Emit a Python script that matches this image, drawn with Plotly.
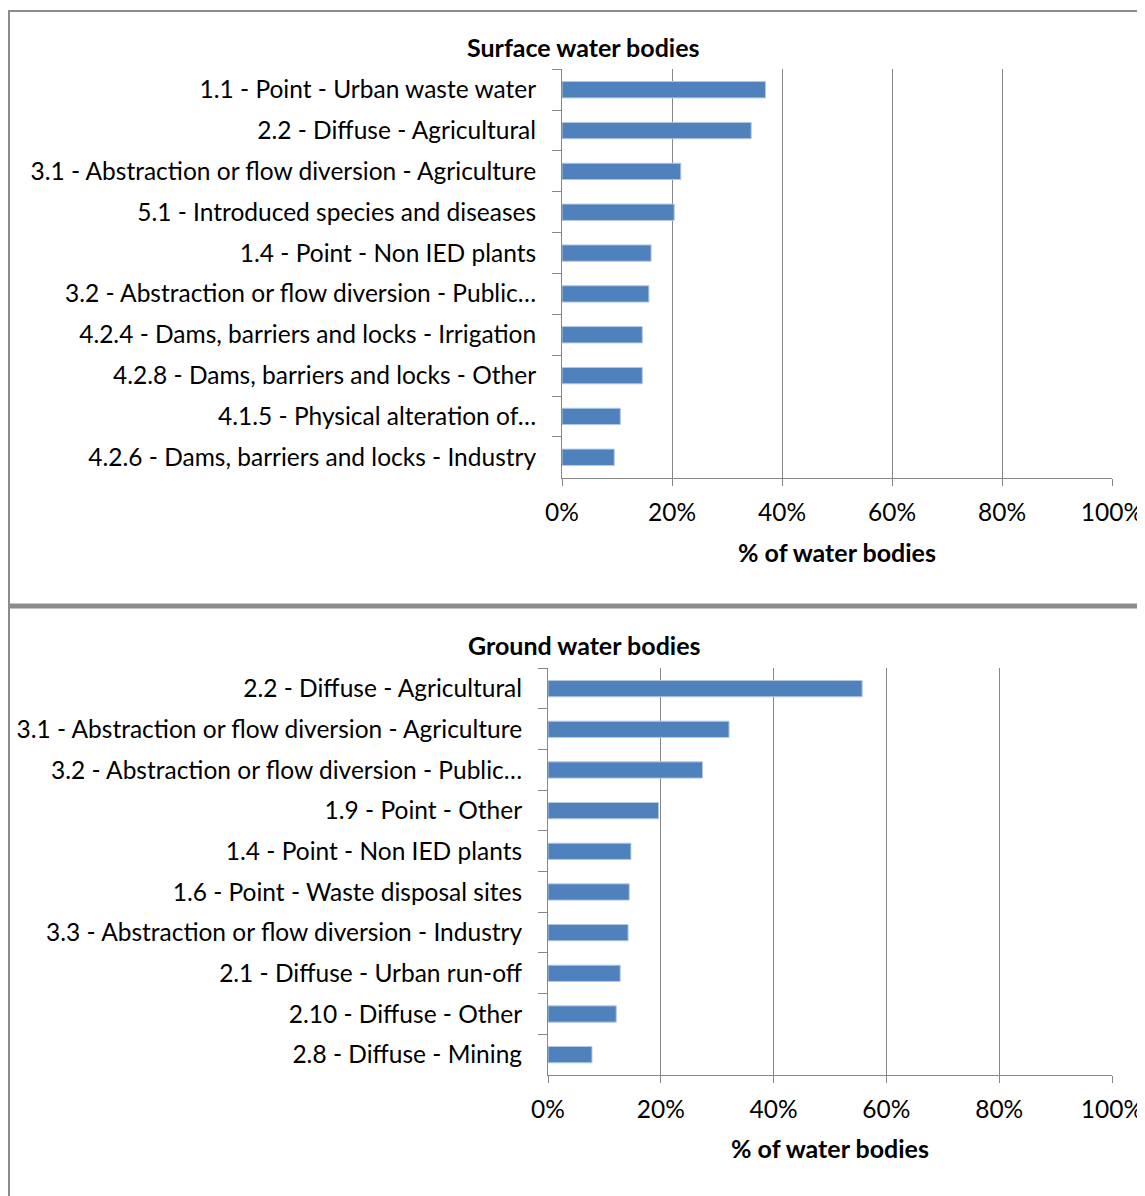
import plotly.graph_objects as go

W, H = 1137, 1188
OFF = 8  # page body margin compensation

surface_labels = [
    "1.1 - Point - Urban waste water",
    "2.2 - Diffuse - Agricultural",
    "3.1 - Abstraction or flow diversion - Agriculture",
    "5.1 - Introduced species and diseases",
    "1.4 - Point - Non IED plants",
    "3.2 - Abstraction or flow diversion - Public…",
    "4.2.4 - Dams, barriers and locks - Irrigation",
    "4.2.8 - Dams, barriers and locks - Other",
    "4.1.5 - Physical alteration of…",
    "4.2.6 - Dams, barriers and locks - Industry",
]
surface_values = [37.0, 34.4, 21.6, 20.4, 16.2, 15.8, 14.6, 14.6, 10.6, 9.5]

ground_labels = [
    "2.2 - Diffuse - Agricultural",
    "3.1 - Abstraction or flow diversion - Agriculture",
    "3.2 - Abstraction or flow diversion - Public…",
    "1.9 - Point - Other",
    "1.4 - Point - Non IED plants",
    "1.6 - Point - Waste disposal sites",
    "3.3 - Abstraction or flow diversion - Industry",
    "2.1 - Diffuse - Urban run-off",
    "2.10 - Diffuse - Other",
    "2.8 - Diffuse - Mining",
]
ground_values = [55.7, 32.1, 27.4, 19.6, 14.7, 14.4, 14.2, 12.8, 12.1, 7.8]

x_ticks = [0, 20, 40, 60, 80, 100]
x_ticktext = ["0%", "20%", "40%", "60%", "80%", "100%"]
titles = ["Surface water bodies", "Ground water bodies"]
x_title = "% of water bodies"

FONT = "Lato"
FS = 24.5
FST = 25
GRID = "#878787"
BAR = "#4F81BD"
TXT = "#000000"

def px_x(p):
    return (p - OFF) / W

def px_y(p):
    return 1 - (p - OFF) / H

fig = go.Figure()

fig.add_trace(go.Bar(x=surface_values, y=surface_labels, orientation="h",
                     marker=dict(color=BAR, line=dict(color="#B4C8E2", width=1)),
                     xaxis="x", yaxis="y", showlegend=False, hoverinfo="x+y"))
fig.add_trace(go.Bar(x=ground_values, y=ground_labels, orientation="h",
                     marker=dict(color=BAR, line=dict(color="#B4C8E2", width=1)),
                     xaxis="x2", yaxis="y2", showlegend=False, hoverinfo="x+y"))

def xaxis(domain, anchor, standoff):
    return dict(domain=domain, anchor=anchor, range=[0, 100], tickmode="array",
                tickvals=x_ticks, ticktext=x_ticktext,
                showgrid=True, gridcolor=GRID, gridwidth=1,
                showline=True, linecolor=GRID, linewidth=1, ticks="outside",
                ticklen=7, tickcolor=GRID, zeroline=False, fixedrange=True,
                automargin=False, ticklabelstandoff=6,
                tickfont=dict(family=FONT, size=FS, color=TXT),
                title=dict(text="<b>" + x_title + "</b>",
                           font=dict(family=FONT, size=FST, color=TXT), standoff=standoff))

def yaxis(domain, anchor):
    return dict(domain=domain, anchor=anchor, type="category", autorange="reversed",
                showgrid=False, showline=True, linecolor=GRID, linewidth=1,
                ticks="outside", tickson="boundaries", ticklen=9, tickcolor=GRID,
                ticklabelstandoff=20, zeroline=False, fixedrange=True, automargin=False,
                tickfont=dict(family=FONT, size=FS, color=TXT))

fig.update_layout(
    width=W, height=H,
    margin=dict(l=0, r=0, t=0, b=0, pad=0),
    autosize=False,
    paper_bgcolor="white", plot_bgcolor="white",
    bargap=0.6,
    xaxis=xaxis([px_x(562), px_x(1112)], "y", 19),
    yaxis=yaxis([px_y(477.7), px_y(69.3)], "x"),
    xaxis2=xaxis([px_x(548), px_x(1112)], "y2", 18),
    yaxis2=yaxis([px_y(1075), px_y(668.3)], "x2"),
    annotations=[
        dict(text="<b>" + titles[0] + "</b>", x=px_x(583), y=px_y(47), xref="paper", yref="paper",
             showarrow=False, xanchor="center", yanchor="middle",
             font=dict(family=FONT, size=FST, color=TXT)),
        dict(text="<b>" + titles[1] + "</b>", x=px_x(584), y=px_y(645), xref="paper", yref="paper",
             showarrow=False, xanchor="center", yanchor="middle",
             font=dict(family=FONT, size=FST, color=TXT)),
    ],
    shapes=[
        dict(type="rect", xref="paper", yref="paper", x0=px_x(9), x1=px_x(1170), y0=px_y(1230), y1=px_y(11),
             line=dict(color="#8C8C8C", width=2), fillcolor="rgba(0,0,0,0)", layer="above"),
        dict(type="line", xref="paper", yref="paper", x0=px_x(9), x1=px_x(1170), y0=px_y(606), y1=px_y(606),
             line=dict(color="#8C8C8C", width=5), layer="above"),
    ],
)

fig.write_html("out.html")
